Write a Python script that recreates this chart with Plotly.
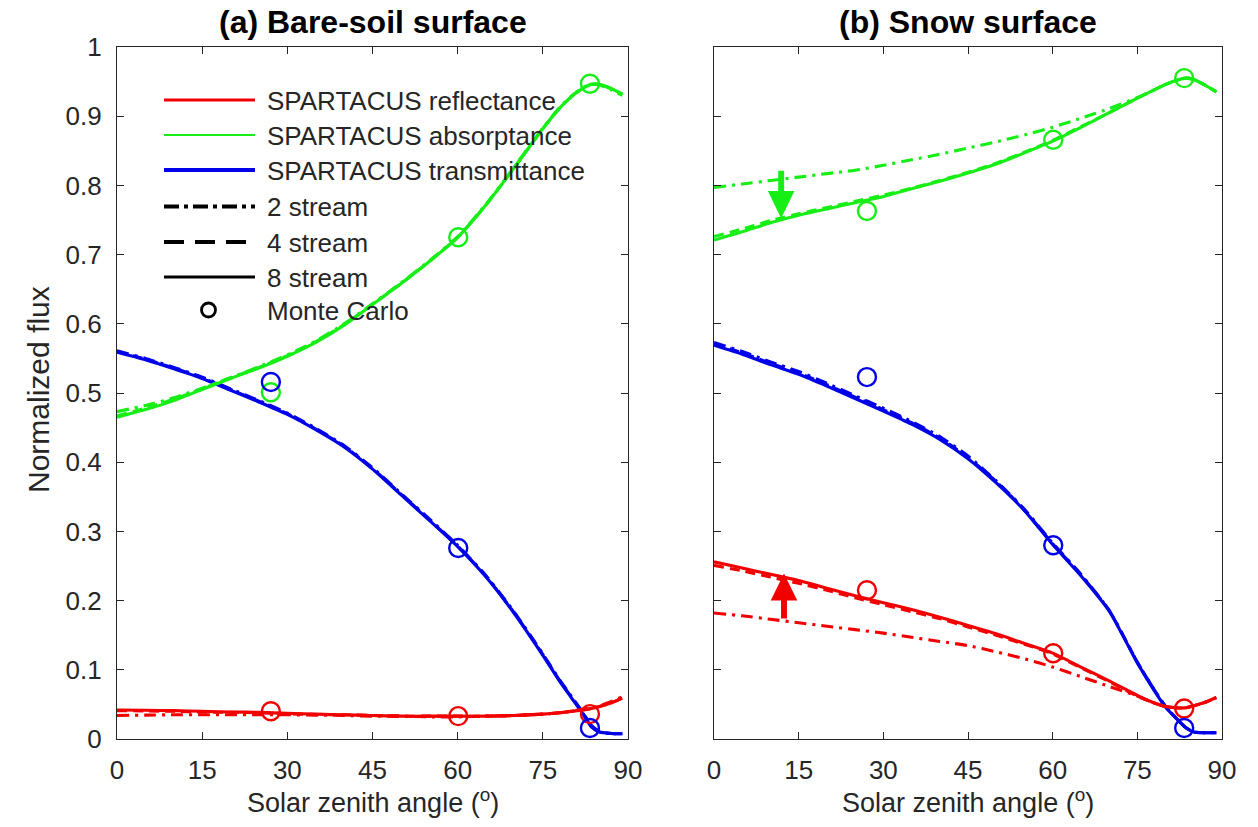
import plotly.graph_objects as go

# ---------------- data ----------------
ANGLE = [0, 5, 10, 15, 20, 25, 30, 35, 40, 45, 50, 55, 60, 65, 70, 75, 78, 80, 82, 83.5, 85, 87, 89]

# (a) bare-soil surface
soil_refl_8 = [0.042, 0.0415, 0.041, 0.040, 0.039, 0.0385, 0.037, 0.036, 0.035, 0.034, 0.033, 0.033, 0.033, 0.033, 0.034, 0.036, 0.038, 0.040, 0.042, 0.044, 0.047, 0.052, 0.059]
soil_refl_4 = [0.041, 0.0405, 0.040, 0.039, 0.0385, 0.038, 0.0365, 0.0355, 0.035, 0.034, 0.033, 0.033, 0.033, 0.033, 0.034, 0.036, 0.038, 0.040, 0.042, 0.044, 0.047, 0.052, 0.059]
soil_refl_2 = [0.034, 0.0345, 0.035, 0.035, 0.035, 0.035, 0.035, 0.0345, 0.034, 0.033, 0.033, 0.032, 0.032, 0.033, 0.034, 0.036, 0.038, 0.040, 0.043, 0.045, 0.048, 0.054, 0.061]
soil_abs_8 = [0.465, 0.476, 0.489, 0.505, 0.521, 0.536, 0.553, 0.573, 0.598, 0.628, 0.658, 0.690, 0.725, 0.772, 0.826, 0.882, 0.912, 0.928, 0.940, 0.946, 0.946, 0.940, 0.932]
soil_abs_4 = [0.467, 0.478, 0.491, 0.506, 0.522, 0.537, 0.554, 0.574, 0.599, 0.628, 0.658, 0.690, 0.725, 0.772, 0.826, 0.882, 0.912, 0.928, 0.940, 0.946, 0.946, 0.940, 0.932]
soil_abs_2 = [0.473, 0.482, 0.493, 0.507, 0.522, 0.538, 0.555, 0.575, 0.600, 0.629, 0.659, 0.691, 0.726, 0.773, 0.827, 0.883, 0.913, 0.929, 0.941, 0.946, 0.945, 0.938, 0.930]
soil_tra_8 = [0.559, 0.548, 0.535, 0.521, 0.504, 0.487, 0.469, 0.447, 0.422, 0.390, 0.353, 0.316, 0.278, 0.234, 0.181, 0.121, 0.083, 0.060, 0.037, 0.018, 0.010, 0.008, 0.0075]
soil_tra_4 = [0.560, 0.549, 0.536, 0.522, 0.505, 0.488, 0.470, 0.448, 0.423, 0.391, 0.354, 0.317, 0.279, 0.235, 0.182, 0.122, 0.084, 0.061, 0.038, 0.019, 0.010, 0.008, 0.0075]
soil_tra_2 = [0.561, 0.550, 0.537, 0.523, 0.506, 0.489, 0.471, 0.449, 0.424, 0.392, 0.355, 0.318, 0.280, 0.236, 0.183, 0.123, 0.085, 0.062, 0.039, 0.020, 0.011, 0.008, 0.0075]

# (b) snow surface
snow_refl_8 = [0.256, 0.247, 0.238, 0.229, 0.218, 0.207, 0.197, 0.187, 0.176, 0.164, 0.152, 0.138, 0.124, 0.104, 0.084, 0.063, 0.052, 0.047, 0.045, 0.045, 0.048, 0.053, 0.060]
snow_refl_4 = [0.251, 0.243, 0.234, 0.225, 0.215, 0.204, 0.194, 0.184, 0.174, 0.162, 0.150, 0.137, 0.123, 0.103, 0.083, 0.062, 0.052, 0.047, 0.045, 0.045, 0.048, 0.053, 0.060]
snow_refl_2 = [0.182, 0.178, 0.173, 0.168, 0.163, 0.158, 0.153, 0.147, 0.141, 0.135, 0.126, 0.116, 0.104, 0.090, 0.076, 0.062, 0.052, 0.047, 0.045, 0.045, 0.048, 0.053, 0.060]
snow_abs_8 = [0.721, 0.733, 0.746, 0.757, 0.766, 0.775, 0.784, 0.795, 0.806, 0.818, 0.831, 0.847, 0.864, 0.884, 0.905, 0.926, 0.938, 0.946, 0.952, 0.955, 0.953, 0.945, 0.935]
snow_abs_4 = [0.726, 0.737, 0.749, 0.759, 0.768, 0.777, 0.786, 0.796, 0.807, 0.819, 0.832, 0.848, 0.865, 0.885, 0.905, 0.926, 0.938, 0.946, 0.952, 0.955, 0.953, 0.945, 0.935]
snow_abs_2 = [0.797, 0.802, 0.807, 0.812, 0.817, 0.822, 0.829, 0.837, 0.845, 0.854, 0.863, 0.873, 0.884, 0.897, 0.911, 0.927, 0.938, 0.946, 0.952, 0.955, 0.953, 0.945, 0.935]
snow_tra_8 = [0.569, 0.556, 0.541, 0.527, 0.510, 0.492, 0.474, 0.455, 0.433, 0.405, 0.370, 0.330, 0.281, 0.236, 0.185, 0.110, 0.070, 0.046, 0.029, 0.017, 0.010, 0.009, 0.009]
snow_tra_4 = [0.571, 0.558, 0.543, 0.529, 0.512, 0.494, 0.476, 0.457, 0.435, 0.407, 0.372, 0.331, 0.282, 0.237, 0.186, 0.111, 0.071, 0.047, 0.029, 0.017, 0.010, 0.009, 0.009]
snow_tra_2 = [0.573, 0.560, 0.545, 0.531, 0.514, 0.496, 0.478, 0.459, 0.437, 0.409, 0.373, 0.332, 0.283, 0.238, 0.186, 0.111, 0.071, 0.047, 0.029, 0.017, 0.010, 0.009, 0.009]

# Monte Carlo reference points
MC_ANGLE = [27.1, 60.1, 83.3]
soil_mc_refl = [0.040, 0.033, 0.036]
soil_mc_abs = [0.501, 0.725, 0.947]
soil_mc_tra = [0.516, 0.276, 0.016]
snow_mc_refl = [0.215, 0.124, 0.044]
snow_mc_abs = [0.763, 0.866, 0.955]
snow_mc_tra = [0.523, 0.280, 0.016]

X_TICKS = [0, 15, 30, 45, 60, 75, 90]
Y_TICKS = [0, 0.1, 0.2, 0.3, 0.4, 0.5, 0.6, 0.7, 0.8, 0.9, 1]
Y_TICK_TEXT = ["0", "0.1", "0.2", "0.3", "0.4", "0.5", "0.6", "0.7", "0.8", "0.9", "1"]

# ---------------- style ----------------
RED = "#f20000"
GREEN = "#16ee16"
BLUE = "#0000e8"
AXC = "#262626"
FONT = "Liberation Sans, Arial, sans-serif"
DASHDOT = "12px,6px,3px,6px"
DASH = "10px,6px"

W, H = 1258, 827
ML, MR, MT, MB = 117, 36, 47, 88
PW, PH = W - ML - MR, H - MT - MB


def px(xp):
    return (xp - ML) / PW


def py(yp):
    return (MT + PH - yp) / PH


fig = go.Figure()

panels = [
    ("x", "y", (soil_refl_2, soil_refl_4, soil_refl_8), (soil_abs_2, soil_abs_4, soil_abs_8),
     (soil_tra_2, soil_tra_4, soil_tra_8), (soil_mc_refl, soil_mc_abs, soil_mc_tra)),
    ("x2", "y2", (snow_refl_2, snow_refl_4, snow_refl_8), (snow_abs_2, snow_abs_4, snow_abs_8),
     (snow_tra_2, snow_tra_4, snow_tra_8), (snow_mc_refl, snow_mc_abs, snow_mc_tra)),
]

for xa, ya, refl, absb, tra, mc in panels:
    for series, color in ((tra, BLUE), (absb, GREEN), (refl, RED)):
        for vals, dash in zip(series, (DASHDOT, DASH, "solid")):
            fig.add_trace(go.Scatter(
                x=ANGLE, y=vals, xaxis=xa, yaxis=ya, mode="lines",
                line=dict(color=color, width=3.1, dash=dash, shape="spline", smoothing=0.6),
                showlegend=False, hoverinfo="skip"))
    for vals, color in zip(mc, (RED, GREEN, BLUE)):
        fig.add_trace(go.Scatter(
            x=MC_ANGLE, y=vals, xaxis=xa, yaxis=ya, mode="markers",
            marker=dict(symbol="circle-open", size=18, color=color, line=dict(width=2.4, color=color)),
            showlegend=False, hoverinfo="skip"))

axis_common = dict(
    showline=True, mirror="ticks", linecolor=AXC, linewidth=1.2,
    ticks="inside", ticklen=7, tickwidth=1, tickcolor=AXC,
    showgrid=False, zeroline=False,
    tickfont=dict(family=FONT, size=26, color=AXC),
)

x_dom_a = [0, px(628)]
x_dom_b = [px(714), 1]

fig.update_layout(
    width=W, height=H,
    margin=dict(l=ML, r=MR, t=MT, b=MB),
    paper_bgcolor="white", plot_bgcolor="white",
    xaxis=dict(domain=x_dom_a, range=[0, 90], tickvals=X_TICKS, ticklabelstandoff=8, anchor="y", **axis_common),
    xaxis2=dict(domain=x_dom_b, range=[0, 90], tickvals=X_TICKS, ticklabelstandoff=8, anchor="y2", **axis_common),
    yaxis=dict(domain=[0, 1], range=[0, 1], tickvals=Y_TICKS, ticktext=Y_TICK_TEXT, ticklabelstandoff=9,
               anchor="x", **axis_common),
    yaxis2=dict(domain=[0, 1], range=[0, 1], tickvals=Y_TICKS, showticklabels=False, anchor="x2", **axis_common),
)

annotations = []
# panel titles
annotations.append(dict(x=(x_dom_a[0] + x_dom_a[1]) / 2, y=py(22), xref="paper", yref="paper",
                        text="<b>(a) Bare-soil surface</b>", showarrow=False,
                        font=dict(family=FONT, size=32, color="black"), xanchor="center", yanchor="middle"))
annotations.append(dict(x=(x_dom_b[0] + x_dom_b[1]) / 2, y=py(22), xref="paper", yref="paper",
                        text="<b>(b) Snow surface</b>", showarrow=False,
                        font=dict(family=FONT, size=32, color="black"), xanchor="center", yanchor="middle"))
# axis titles
for dom in (x_dom_a, x_dom_b):
    annotations.append(dict(x=(dom[0] + dom[1]) / 2, y=py(801), xref="paper", yref="paper",
                            text="Solar zenith angle (<sup>o</sup>)", showarrow=False,
                            font=dict(family=FONT, size=27, color=AXC), xanchor="center", yanchor="middle"))
annotations.append(dict(x=px(38), y=py(390), xref="paper", yref="paper", text="Normalized flux",
                        showarrow=False, textangle=-90,
                        font=dict(family=FONT, size=30, color=AXC), xanchor="center", yanchor="middle"))

# legend
LEG_X0, LEG_X1, LEG_TX = 164, 255, 265
legend_rows = [
    ("SPARTACUS reflectance", 100, RED, 3.2, "solid"),
    ("SPARTACUS absorptance", 135, GREEN, 2.0, "solid"),
    ("SPARTACUS transmittance", 170, BLUE, 4.2, "solid"),
    ("2 stream", 206.5, "black", 4.0, "15px,5px,4px,5px"),
    ("4 stream", 242, "black", 4.0, "20px,11px"),
    ("8 stream", 277, "black", 3.0, "solid"),
]
shapes = []
for label, yrow, color, width, dash in legend_rows:
    shapes.append(dict(type="line", xref="paper", yref="paper",
                       x0=px(LEG_X0), x1=px(LEG_X1), y0=py(yrow), y1=py(yrow),
                       line=dict(color=color, width=width, dash=dash)))
    annotations.append(dict(x=px(LEG_TX), y=py(yrow + 1), xref="paper", yref="paper", text=label,
                            showarrow=False, xanchor="left", yanchor="middle",
                            font=dict(family=FONT, size=26, color=AXC)))
# Monte Carlo legend glyph
shapes.append(dict(type="circle", xref="paper", yref="paper",
                   x0=px(208.5 - 7), x1=px(208.5 + 7), y0=py(310 + 7), y1=py(310 - 7),
                   line=dict(color="black", width=2.8)))
annotations.append(dict(x=px(LEG_TX), y=py(311), xref="paper", yref="paper", text="Monte Carlo",
                        showarrow=False, xanchor="left", yanchor="middle",
                        font=dict(family=FONT, size=26, color=AXC)))


# block arrows in panel (b): shaft plus triangular head, in data units
def block_arrow(xc, y_tail, y_base, y_tip, color, shaft_w=1.05, head_w=4.7):
    s = shaft_w / 2
    h = head_w / 2
    path = (f"M {xc - s},{y_tail} L {xc + s},{y_tail} L {xc + s},{y_base} L {xc + h},{y_base} "
            f"L {xc},{y_tip} L {xc - h},{y_base} L {xc - s},{y_base} Z")
    return dict(type="path", xref="x2", yref="y2", path=path,
                fillcolor=color, line=dict(color=color, width=0))


shapes.append(block_arrow(11.9, 0.821, 0.792, 0.752, GREEN))
shapes.append(block_arrow(12.4, 0.174, 0.200, 0.239, RED))

fig.update_layout(annotations=annotations, shapes=shapes)

fig.write_html("out.html")
